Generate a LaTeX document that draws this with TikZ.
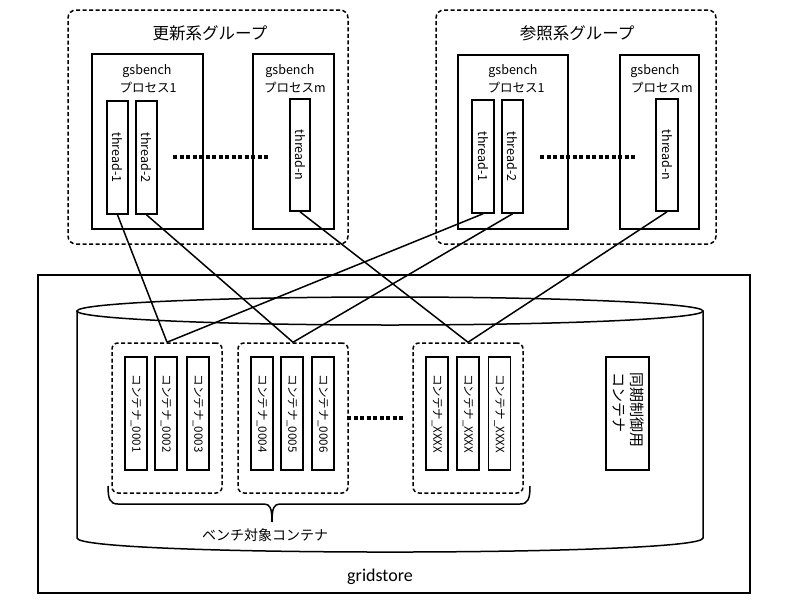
\documentclass[tikz,border=0pt]{standalone}
\usepackage{fontspec}
\setmainfont{Noto Sans CJK JP}
\newfontfamily\latinfont{Carlito}
\begin{document}
\begin{tikzpicture}[x=1pt,y=-1pt,
  grp/.style={draw, line width=1.5pt, dash pattern=on 4pt off 2.5pt, rounded corners=8pt, inner sep=0pt},
  cgrp/.style={draw, line width=1.5pt, dash pattern=on 4pt off 2.5pt, rounded corners=6pt, inner sep=0pt, minimum width=110pt, minimum height=150pt},
  proc/.style={draw, line width=1.6pt, inner sep=0pt},
  thrbox/.style={draw, line width=1.6pt, inner sep=0pt},
  cont/.style={draw, line width=1.6pt, inner sep=0pt, minimum width=22pt, minimum height=113pt},
  conttxt/.style={font=\fontsize{11.5}{12}\selectfont, rotate=-90, inner sep=0pt},
  thrtxt/.style={font=\fontsize{12.5}{13}\selectfont, rotate=-90, inner sep=0pt},
  ttl/.style={font=\fontsize{16.5}{18}\selectfont, inner sep=0pt},
  ptxt/.style={font=\fontsize{12.5}{14}\selectfont, inner sep=0pt},
  conn/.style={line width=1.5pt},
  dots/.style={line width=3.5pt, dash pattern=on 4pt off 2.5pt}
]
\useasboundingbox (0,0) rectangle (794,605);
\fill[white] (0,0) rectangle (794,605);

% ---- 更新系グループ ----
\node[grp, minimum width=280pt, minimum height=234pt] (ug) at (208,127) {};
\node[ttl] (ugt) at (210,33) {更新系グループ};
\node[proc, minimum width=111pt, minimum height=175pt] (up1) at (147.5,141.5) {};
\node[ptxt] (up1a) at (147,71) {gsbench};
\node[ptxt] (up1b) at (148,88) {プロセス1};
\node[proc, minimum width=81pt, minimum height=175pt] (upm) at (293.5,141.5) {};
\node[ptxt] (upma) at (290,71) {gsbench};
\node[ptxt] (upmb) at (295,88) {プロセスm};
\node[thrbox, minimum width=21pt, minimum height=113pt] (ut1) at (117.5,157.5) {};
\node[thrbox, minimum width=21pt, minimum height=113pt] (ut2) at (146.5,157.5) {};
\node[thrbox, minimum width=20pt, minimum height=112pt] (utn) at (300,155) {};
\node[thrtxt] (ut1l) at (ut1) {thread-1};
\node[thrtxt] (ut2l) at (ut2) {thread-2};
\node[thrtxt] (utnl) at (utn) {thread-n};
\coordinate (ud1) at (173,157);
\coordinate (ud2) at (270,157);
\draw[dots] (ud1) -- (ud2);

% ---- 参照系グループ ----
\node[grp, minimum width=280pt, minimum height=234pt] (rg) at (576,127) {};
\node[ttl] (rgt) at (577,33) {参照系グループ};
\node[proc, minimum width=110pt, minimum height=174pt] (rp1) at (513,142) {};
\node[ptxt] (rp1a) at (513,71) {gsbench};
\node[ptxt] (rp1b) at (516,88) {プロセス1};
\node[proc, minimum width=79pt, minimum height=174pt] (rpm) at (659.5,142) {};
\node[ptxt] (rpma) at (655,71) {gsbench};
\node[ptxt] (rpmb) at (662,88) {プロセスm};
\node[thrbox, minimum width=22pt, minimum height=113pt] (rt1) at (483,156.5) {};
\node[thrbox, minimum width=21pt, minimum height=113pt] (rt2) at (512.5,156.5) {};
\node[thrbox, minimum width=22pt, minimum height=112pt] (rtn) at (667,155) {};
\node[thrtxt] (rt1l) at (rt1) {thread-1};
\node[thrtxt] (rt2l) at (rt2) {thread-2};
\node[thrtxt] (rtnl) at (rtn) {thread-n};
\coordinate (rd1) at (540,157);
\coordinate (rd2) at (637,157);
\draw[dots] (rd1) -- (rd2);

% ---- gridstore ----
\node[proc, minimum width=712pt, minimum height=318pt] (gs) at (394,434) {};
\node[font=\latinfont\fontsize{18}{20}\selectfont, inner sep=0pt] (gst) at (380,577) {gridstore};

% cylinder
\draw[line width=1.5pt] (390,311) ellipse [x radius=313pt, y radius=14pt];
\draw[line width=1.5pt] (77,311) -- (77,538) .. controls (77,556.7) and (703,556.7) .. (703,538) -- (703,311);

% container groups
\node[cgrp] (g1) at (167,418) {};
\node[cgrp] (g2) at (293,418) {};
\node[cgrp] (g3) at (468,418) {};

\node[cont] (c1) at (136,413.5) {};
\node[cont] (c2) at (166,413.5) {};
\node[cont] (c3) at (198,413.5) {};
\node[cont] (c4) at (262,413.5) {};
\node[cont] (c5) at (292,413.5) {};
\node[cont] (c6) at (323,413.5) {};
\node[cont] (c7) at (437,413.5) {};
\node[cont] (c8) at (468,413.5) {};
\node[cont] (c9) at (499.5,413.5) {};
\node[conttxt] (c1l) at (c1) {コンテナ\_0001};
\node[conttxt] (c2l) at (c2) {コンテナ\_0002};
\node[conttxt] (c3l) at (c3) {コンテナ\_0003};
\node[conttxt] (c4l) at (c4) {コンテナ\_0004};
\node[conttxt] (c5l) at (c5) {コンテナ\_0005};
\node[conttxt] (c6l) at (c6) {コンテナ\_0006};
\node[conttxt] (c7l) at (c7) {コンテナ\_XXXX};
\node[conttxt] (c8l) at (c8) {コンテナ\_XXXX};
\node[conttxt] (c9l) at (c9) {コンテナ\_XXXX};

\coordinate (cd1) at (347,418);
\coordinate (cd2) at (405,418);
\draw[dots] (cd1) -- (cd2);

\node[proc, minimum width=43pt, minimum height=113pt] (sync) at (627.5,413.5) {};
\node[rotate=-90, align=left, font=\fontsize{15}{18}\selectfont, inner sep=0pt, anchor=north west] (syncl) at (644,372) {同期制御用\\コンテナ};

% brace
\draw[line width=1.5pt] (108,486) .. controls (108,499) and (110,504) .. (118,504)
  -- (264,504) .. controls (270,504) and (272,508) .. (272,522)
  .. controls (272,508) and (274,504) .. (280,504)
  -- (520,504) .. controls (528,504) and (530,499) .. (530,486);
\node[font=\fontsize{14}{16}\selectfont, inner sep=0pt] (bl) at (265,535) {ベンチ対象コンテナ};

% connectors
\draw[conn] (ut1.south) -- (g1.north);
\draw[conn] (ut2.south) -- (g2.north);
\draw[conn] (utn.south) -- (g3.north);
\draw[conn] (rt1.south) -- (g1.north);
\draw[conn] (rt2.south) -- (g2.north);
\draw[conn] (rtn.south) -- (g3.north);
\end{tikzpicture}
\end{document}
